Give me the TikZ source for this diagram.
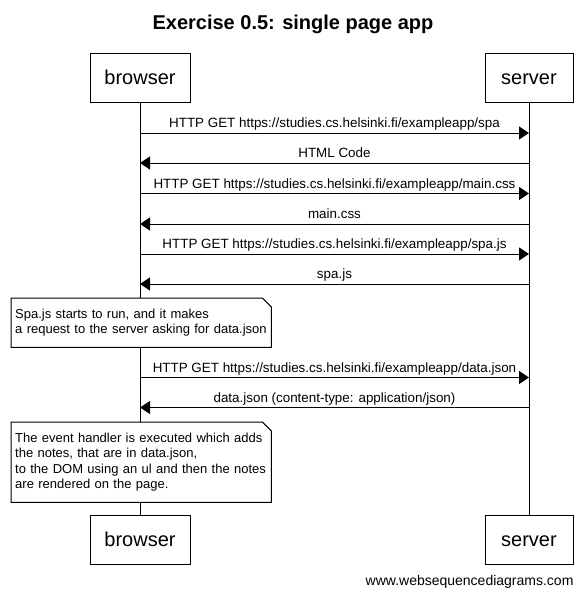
\documentclass[tikz,border=0pt]{standalone}
\usepackage{fontspec}
\setmainfont{Liberation Sans}
\usetikzlibrary{arrows.meta}

\begin{document}
\begin{tikzpicture}[
      x=1pt, y=-1pt,
      every node/.style={font=\fontsize{13}{15.5}\selectfont},
      actor/.style={draw, line width=1pt, minimum height=49pt, text height=14.5pt, text depth=0pt, font=\fontsize{20}{24}\selectfont},
      life/.style={line width=1pt},
      msg/.style={line width=1pt, -{Triangle[length=10pt, width=13pt]}},
      msglabel/.style={above, inner sep=2pt, text depth=3pt, font=\fontsize{13.4}{16}\selectfont},
      note/.style={fill=white, anchor=north west, text width=252pt, align=left, inner xsep=4pt, inner ysep=0pt, minimum width=260pt}
    ]

    \useasboundingbox (0,0) rectangle (586,598);

    % Title
    \node (title) [anchor=base, font=\fontsize{20}{24}\selectfont\bfseries] at (293,29.5) {Exercise 0.5: single page app};

    % Participants, top and bottom
    \node (browser) [actor, minimum width=100pt] at (140,77.5) {browser};
    \node (server) [actor, minimum width=88pt] at (529,77.5) {server};
    \node (browserend) [actor, minimum width=100pt] at (140,539.5) {browser};
    \node (serverend) [actor, minimum width=88pt] at (529,539.5) {server};

    % Lifelines
    \draw [life] (browser) -- (browserend);
    \draw [life] (server) -- (serverend);

    % Loading the page
    \draw [msg] (browser |- 0,133) -- node [msglabel] {HTTP GET https://studies.cs.helsinki.fi/exampleapp/spa} (server |- 0,133);
    \draw [msg] (server |- 0,163) -- node [msglabel] {HTML Code} (browser |- 0,163);
    \draw [msg] (browser |- 0,193.5) -- node [msglabel] {HTTP GET https://studies.cs.helsinki.fi/exampleapp/main.css} (server |- 0,193.5);
    \draw [msg] (server |- 0,224) -- node [msglabel] {main.css} (browser |- 0,224);
    \draw [msg] (browser |- 0,254) -- node [msglabel] {HTTP GET https://studies.cs.helsinki.fi/exampleapp/spa.js} (server |- 0,254);
    \draw [msg] (server |- 0,284) -- node [msglabel] {spa.js} (browser |- 0,284);

    % First note
    \node (runnote) [note, minimum height=49pt] at (11,298) {Spa.js starts to run, and it makes\\a request to the server asking for data.json};
    \draw [line width=1pt] (runnote.north west) -- ([xshift=-9pt]runnote.north east) -- ([yshift=-9pt]runnote.north east) -- (runnote.south east) -- (runnote.south west) -- cycle;

    % Fetching the notes
    \draw [msg] (browser |- 0,377.5) -- node [msglabel] {HTTP GET https://studies.cs.helsinki.fi/exampleapp/data.json} (server |- 0,377.5);
    \draw [msg] (server |- 0,407.5) -- node [msglabel] {data.json (content-type: application/json)} (browser |- 0,407.5);

    % Second note
    \node (rendernote) [note, minimum height=80pt] at (11,422) {The event handler is executed which adds\\the notes, that are in data.json,\\to the DOM using an ul and then the notes\\are rendered on the page.};
    \draw [line width=1pt] (rendernote.north west) -- ([xshift=-9pt]rendernote.north east) -- ([yshift=-9pt]rendernote.north east) -- (rendernote.south east) -- (rendernote.south west) -- cycle;

    % Footer
    \node (footer) [anchor=base east, font=\fontsize{14}{17}\selectfont] at (577,585) {www.websequencediagrams.com};

    \end{tikzpicture}
\end{document}
